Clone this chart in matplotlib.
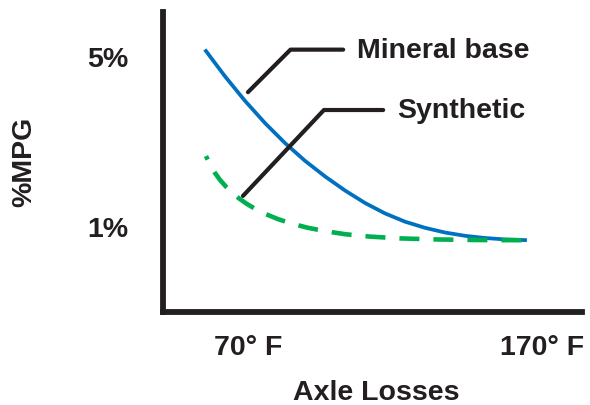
import matplotlib
matplotlib.use("Agg")
from matplotlib import pyplot as plt

# 读取的曲线数据 (温度 °F, %MPG)
temp_mineral = [55.71, 62.18, 68.98, 75.78, 82.59, 89.39, 96.19, 102.99, 109.80,
                116.60, 123.40, 130.20, 137.01, 143.81, 150.61, 157.41, 164.22]
mpg_mineral = [5.118, 4.522, 3.946, 3.424, 2.953, 2.536, 2.169, 1.838, 1.544,
               1.299, 1.104, 0.960, 0.849, 0.772, 0.720, 0.687, 0.671]

temp_synthetic = [55.71, 57.07, 58.78, 60.48, 62.52, 64.56, 66.94, 69.66, 72.72, 76.12,
                  80.20, 84.97, 90.41, 96.53, 103.33, 111.50, 121.70, 133.61, 147.21, 164.22]
mpg_synthetic = [2.647, 2.454, 2.249, 2.087, 1.927, 1.788, 1.652, 1.520, 1.395, 1.280,
                 1.165, 1.056, 0.960, 0.878, 0.807, 0.753, 0.711, 0.687, 0.673, 0.668]

x_ticks = [70, 170]
x_tick_labels = ["70° F", "170° F"]
y_ticks = [1, 5]
y_tick_labels = ["1%", "5%"]

# 标注: 文字, 指向点, 文字位置, 斜线角度
callouts = [
    ("Mineral base", (70.0, 4.15), (107.1, 5.15), 45),
    ("Synthetic", (68.3, 1.71), (120.7, 3.73), 46.7),
]

DARK = "#231f20"
BLUE = "#0070c0"
GREEN = "#00b050"
FS = 20.5


def main():
    plt.rcParams["font.family"] = ["Liberation Sans", "DejaVu Sans"]
    plt.rcParams["font.weight"] = "bold"

    fig = plt.figure(figsize=(5.9, 4.06), dpi=100)
    ax = fig.add_axes([163 / 590, 93 / 406, 419 / 590, 300 / 406])

    ax.plot(temp_mineral, mpg_mineral, color=BLUE, lw=2.7, solid_joinstyle="round")
    ax.plot(
        temp_synthetic, mpg_synthetic,
        color=GREEN, lw=3.3, ls=(3.5, (4.36, 3.06)),
    )

    for label, tip, pos, ang in callouts:
        ax.annotate(
            label, xy=tip, xytext=pos,
            ha="left", va="center", fontsize=FS, fontweight="bold", color=DARK,
            arrowprops=dict(
                arrowstyle="-", color=DARK, lw=3,
                connectionstyle=f"angle,angleA=0,angleB={ang},rad=0",
                shrinkA=8, shrinkB=0,
            ),
        )

    ax.set_xlim(41.1, 183.6)
    ax.set_ylim(-1.02, 6.035)

    ax.set_xticks(x_ticks, x_tick_labels)
    ax.set_yticks(y_ticks, y_tick_labels)
    ax.tick_params(length=0, labelsize=FS, labelcolor=DARK)
    ax.tick_params(axis="x", pad=16)
    ax.tick_params(axis="y", pad=25)

    for s in ["top", "right"]:
        ax.spines[s].set_visible(False)
    for s in ["left", "bottom"]:
        ax.spines[s].set_linewidth(4.2)
        ax.spines[s].set_color(DARK)

    ax.set_xlabel("Axle Losses", fontsize=FS, fontweight="bold", color=DARK, va="center")
    ax.set_ylabel("%MPG", fontsize=FS, fontweight="bold", color=DARK, va="center")
    ax.xaxis.set_label_coords(0.508, -0.267)
    ax.yaxis.set_label_coords(-0.332, 0.503)

    fig.savefig("out.png", dpi=100)


if __name__ == "__main__":
    main()
